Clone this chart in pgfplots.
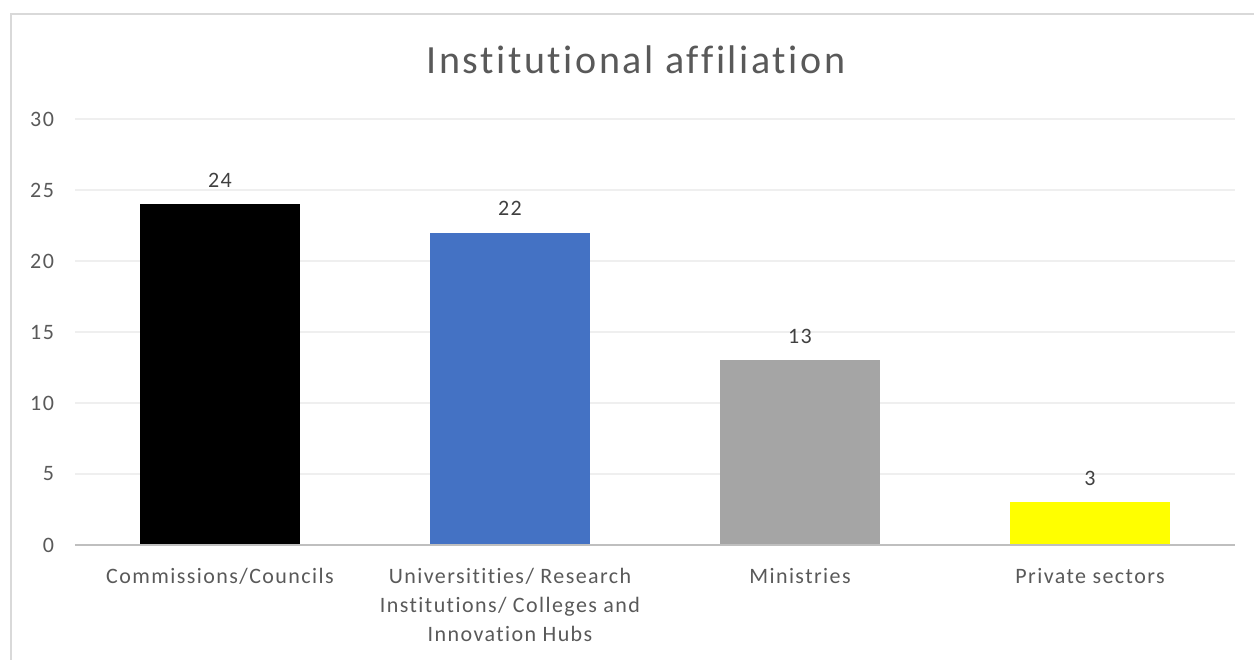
\documentclass[border=0pt]{standalone}
\usepackage{fontspec}
\setmainfont{Carlito}[LetterSpace=6.5, Ligatures=NoCommon]
\usepackage{pgfplots}
\pgfplotsset{compat=1.18}

\definecolor{txtgray}{HTML}{595959}
\definecolor{lblgray}{HTML}{404040}
\definecolor{gridgray}{HTML}{EFEFEF}
\definecolor{axisgray}{HTML}{BFBFBF}
\definecolor{framegray}{HTML}{D9D9D9}
\definecolor{barblue}{HTML}{4472C4}
\definecolor{bargray}{HTML}{A5A5A5}
\definecolor{baryellow}{HTML}{FFFF00}

\begin{document}
\begin{tikzpicture}
\useasboundingbox (0,0) rectangle (627bp,330bp);
\draw[framegray, line width=0.6bp] (5.5bp,0) -- (5.5bp,323bp) -- (627bp,323bp);
\node[anchor=base, text=txtgray, font=\fontsize{20bp}{23bp}\selectfont] at (318bp,293bp) {Institutional affiliation};

\begin{axis}[
	width=580bp,
	height=213bp,
	scale only axis,
	at={(37.5bp,57.5bp)},
	anchor=south west,
	xmin=-0.5, xmax=3.5,
	ymin=0, ymax=30,
	ytick={0,5,...,30},
	xtick={0,1,2,3},
	xticklabels={Commissions/Councils,
		{Universitities/ Research\\Institutions/ Colleges and\\Innovation Hubs},
		Ministries, Private sectors},
	axis line style={draw=none},
	major tick length=0pt,
	ymajorgrids,
	grid style={gridgray, line width=0.7bp},
	ybar, bar width=80bp, bar shift=0pt,
	ticklabel style={text=txtgray, font=\fontsize{11bp}{14.5bp}\selectfont},
	xticklabel style={align=center, anchor=north, yshift=-8bp},
	yticklabel style={anchor=east, xshift=-7bp},
	nodes near coords,
	nodes near coords style={text=lblgray, font=\fontsize{11bp}{13bp}\selectfont, yshift=5bp},
	/pgf/number format/assume math mode=true,
	clip=false,
	]
\addplot[fill=black, draw=none] coordinates {(0,24)};
\addplot[fill=barblue, draw=none] coordinates {(1,22)};
\addplot[fill=bargray, draw=none] coordinates {(2,13)};
\addplot[fill=baryellow, draw=none] coordinates {(3,3)};
\draw[axisgray, line width=1bp] (axis cs:-0.5,0) -- (axis cs:3.5,0);
\end{axis}
\end{tikzpicture}
\end{document}
